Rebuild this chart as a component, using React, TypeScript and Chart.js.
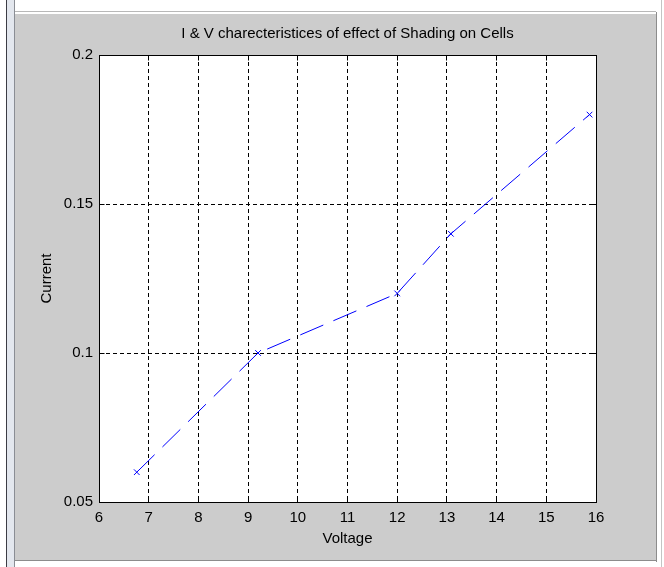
import React, { useEffect, useRef } from "react";
import { Chart, registerables } from "chart.js";

Chart.register(...registerables);

// ---- data ----
const voltage = [6.76, 9.2, 12.0, 13.08, 15.87];
const current = [0.06, 0.1, 0.12, 0.14, 0.18];
const xTickValues = [6, 7, 8, 9, 10, 11, 12, 13, 14, 15, 16];
const yTickValues = [0.05, 0.1, 0.15, 0.2];
const yTickLabels = ["0.05", "0.1", "0.15", "0.2"];
const titleText = "I & V charecteristices of effect of Shading on Cells";
const xTitleText = "Voltage";
const yTitleText = "Current";

const FONT = "'Liberation Sans', Arial, Helvetica, sans-serif";
const W = 664;
const H = 567;

const align = (p: number) => Math.round(p - 0.5) + 0.5;

const framePlugin = {
  id: "matlabFrame",
  beforeDraw(chart: any) {
    const ctx = chart.ctx;
    ctx.save();
    ctx.fillStyle = "#ffffff";
    ctx.fillRect(0, 0, W, H);
    // left window edge
    ctx.fillStyle = "#e3e7ee";
    ctx.fillRect(6, 0, 9, H);
    ctx.fillStyle = "#3c3c44";
    ctx.fillRect(6, 0, 1, H);
    ctx.fillStyle = "#8a8d94";
    ctx.fillRect(14, 0, 1, H);
    // gray figure panel
    ctx.fillStyle = "#cccccc";
    ctx.fillRect(15, 14, 641, 546);
    ctx.fillStyle = "#b8b8b8";
    ctx.fillRect(15, 11, 641, 1);
    ctx.fillStyle = "#ffffff";
    ctx.fillRect(15, 13, 641, 1);
    ctx.fillStyle = "#8c8c8c";
    ctx.fillRect(656, 12, 1, 550);
    ctx.fillRect(15, 560, 642, 1);
    ctx.fillStyle = "#c4c4c4";
    ctx.fillRect(661, 0, 1, H);
    // white axes area
    const a = chart.chartArea;
    ctx.fillStyle = "#ffffff";
    ctx.fillRect(a.left, a.top, a.right - a.left, a.bottom - a.top);
    ctx.restore();
  },
  afterDraw(chart: any) {
    const ctx = chart.ctx;
    const a = chart.chartArea;
    const xs = chart.scales.x;
    const ys = chart.scales.y;
    const L = align(a.left);
    const R = align(a.right);
    const T = align(a.top);
    const B = align(a.bottom);
    ctx.save();
    ctx.strokeStyle = "#000000";
    ctx.lineWidth = 1;
    ctx.setLineDash([]);
    ctx.strokeRect(L, T, R - L, B - T);
    ctx.beginPath();
    xTickValues.forEach((v) => {
      const p = align(xs.getPixelForValue(v));
      ctx.moveTo(p, B);
      ctx.lineTo(p, B - 5);
      ctx.moveTo(p, T);
      ctx.lineTo(p, T + 5);
    });
    yTickValues.forEach((v) => {
      const p = align(ys.getPixelForValue(v));
      ctx.moveTo(L, p);
      ctx.lineTo(L + 5, p);
      ctx.moveTo(R, p);
      ctx.lineTo(R - 5, p);
    });
    ctx.stroke();
    ctx.restore();
  },
};

export default function App() {
  const ref = useRef<HTMLCanvasElement | null>(null);

  useEffect(() => {
    if (!ref.current) return;
    const chart = new Chart(ref.current, {
      type: "scatter",
      data: {
        datasets: [
          {
            data: voltage.map((x, i) => ({ x, y: current[i] })),
            showLine: true,
            borderColor: "#0000ff",
            borderWidth: 1,
            borderDash: [25, 11],
            pointStyle: "crossRot",
            pointRadius: 4,
            pointBorderColor: "#0000ff",
            pointBackgroundColor: "#0000ff",
            pointBorderWidth: 1,
            fill: false,
            tension: 0,
          },
        ],
      },
      options: {
        responsive: false,
        animation: false,
        layout: { padding: { left: 0, right: 68, top: 0, bottom: 0 } },
        plugins: {
          legend: { display: false },
          tooltip: { enabled: false },
          title: {
            display: true,
            text: titleText,
            fullSize: false,
            color: "#000000",
            font: { family: FONT, size: 15, weight: "normal" },
            padding: { top: 24.5, bottom: 12.5 },
          },
        },
        scales: {
          x: {
            type: "linear",
            min: 6,
            max: 16,
            afterBuildTicks: (scale: any) => {
              scale.ticks = xTickValues.map((v) => ({ value: v }));
            },
            afterFit: (scale: any) => {
              scale.height = 65;
            },
            grid: { color: "#000000", lineWidth: 1, drawTicks: false },
            border: { display: false, dash: [4, 3] },
            ticks: {
              color: "#000000",
              padding: 7,
              maxRotation: 0,
              autoSkip: false,
              font: { family: FONT, size: 15 },
              callback: (v: any) => String(v),
            },
            title: {
              display: true,
              text: xTitleText,
              color: "#000000",
              font: { family: FONT, size: 15 },
              padding: { top: 0, bottom: 19 },
            },
          },
          y: {
            type: "linear",
            min: 0.05,
            max: 0.2,
            afterBuildTicks: (scale: any) => {
              scale.ticks = yTickValues.map((v) => ({ value: v }));
            },
            afterFit: (scale: any) => {
              scale.width = 99;
            },
            grid: { color: "#000000", lineWidth: 1, drawTicks: false },
            border: { display: false, dash: [4, 3] },
            ticks: {
              color: "#000000",
              padding: 6,
              autoSkip: false,
              font: { family: FONT, size: 15 },
              callback: (_v: any, i: number) => yTickLabels[i],
            },
            title: {
              display: true,
              text: yTitleText,
              color: "#000000",
              font: { family: FONT, size: 15 },
              padding: { top: 38, bottom: 0 },
            },
          },
        },
      },
      plugins: [framePlugin],
    } as any);
    return () => chart.destroy();
  }, []);

  return (
    <div
      style={{
        position: "fixed",
        left: 0,
        top: 0,
        width: W,
        height: H,
        background: "#ffffff",
      }}
    >
      <canvas ref={ref} width={W} height={H} style={{ display: "block" }} />
    </div>
  );
}
